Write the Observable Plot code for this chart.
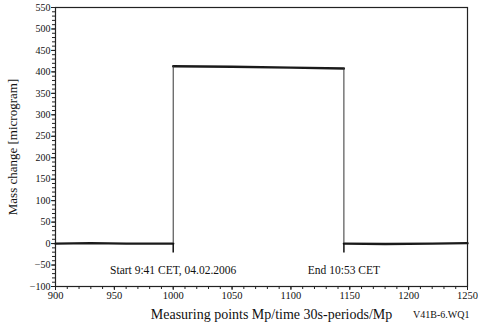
<!DOCTYPE html>
<html><head><meta charset="utf-8">
<script src="https://cdn.jsdelivr.net/npm/d3@7"></script>
<script src="https://cdn.jsdelivr.net/npm/@observablehq/plot@0.6"></script>
<style>body{margin:0;background:#fff}svg{display:block}</style>
</head><body><div id="chart"></div>
<script>
// Measured series (step: baseline, plateau, baseline)
const mp   = [900, 930, 960, 1000, 1000, 1050, 1100, 1145, 1145, 1180, 1220, 1250];
const mass = [0,   1,   0,   0,    413,  412,  410,  408,  0,    -1,   0,    1];
const segment = [0, 0, 0, 0, 1, 1, 1, 1, 2, 2, 2, 2];
// event markers
const eventMp = [1000, 1145];
const eventLabels = ["Start 9:41 CET, 04.02.2006", "End 10:53 CET"];
// ticks
const xMajor = [900, 950, 1000, 1050, 1100, 1150, 1200, 1250];
const yMajor = [-100, -50, 0, 50, 100, 150, 200, 250, 300, 350, 400, 450, 500, 550];

const data = mp.map((x, i) => ({x, y: mass[i], s: segment[i]}));
const steps = [];
for (let i = 1; i < data.length; i++) if (data[i].x === data[i-1].x) steps.push({x: data[i].x, y1: data[i-1].y, y2: data[i].y});
const events = eventMp.map((x, i) => ({x, label: eventLabels[i]}));

const chart = Plot.plot({
  width: 478, height: 324,
  marginLeft: 55, marginRight: 11, marginTop: 7, marginBottom: 38,
  style: {fontFamily: "Liberation Serif", fontSize: "10px", color: "#111", background: "#fff"},
  x: {domain: [900, 1250]},
  y: {domain: [-100, 550]},
  marks: [
    Plot.frame({stroke: "#222", strokeWidth: 1.2}),
    Plot.axisY({ticks: d3.range(-100, 551, 10), tickSize: 3, text: null, label: null, stroke: "#222"}),
    Plot.axisY({ticks: yMajor, tickSize: 4, tickPadding: 1, tickFormat: "d", label: null, fontSize: 10, stroke: "#222"}),
    Plot.axisX({ticks: d3.range(900, 1251, 10), tickSize: 3, text: null, label: null, stroke: "#222"}),
    Plot.axisX({ticks: xMajor, tickSize: 4, tickPadding: 1, tickFormat: "d", label: null, fontSize: 10.5, stroke: "#222"}),
    Plot.text(["Mass change [microgram]"], {frameAnchor: "left", textAnchor: "middle", dx: -43, rotate: -90, fontSize: 13}),
    Plot.text(["Measuring points Mp/time 30s-periods/Mp"], {frameAnchor: "bottom", dx: 10, dy: 32, fontSize: 14}),
    Plot.text(["V41B-6.WQ1"], {frameAnchor: "bottom-right", dx: 2, dy: 31, fontSize: 10, textAnchor: "end"}),
    Plot.line(data, {x: "x", y: "y", z: "s", stroke: "#1a1a1a", strokeWidth: 2.4}),
    Plot.ruleX(steps, {x: "x", y1: "y1", y2: "y2", stroke: "#333", strokeWidth: 1}),
    Plot.ruleX(events, {x: "x", y1: 0, y2: -22, stroke: "#111", strokeWidth: 1.5}),
    Plot.text(events, {x: "x", y: -62, text: "label", fontSize: 11.5})
  ]
});
document.getElementById("chart").append(chart);
</script></body></html>
